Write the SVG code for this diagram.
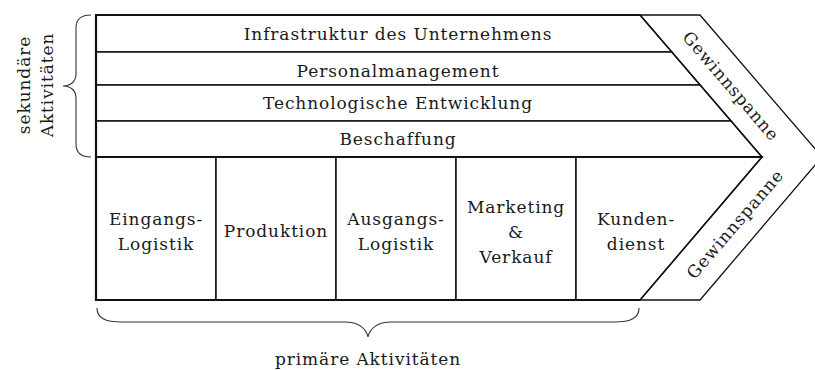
<svg xmlns="http://www.w3.org/2000/svg" width="815" height="370" viewBox="0 0 815 370">
<style>
text{font-family:"DejaVu Serif","Liberation Serif",serif;font-size:17px;letter-spacing:0.9px;fill:#1a1a1a;text-anchor:middle}
.cell{fill:#fff;stroke:#111;stroke-width:1.5;stroke-linejoin:miter}
.thin{fill:none;stroke:#111;stroke-width:1.3}
.thick{fill:none;stroke:#111;stroke-width:2.2}
.brace{fill:none;stroke:#333;stroke-width:1.1}
</style>
<rect width="815" height="370" fill="#fff"/>
<g id="infrastruktur">
<polygon class="cell" points="96,15 640,15 671.8,52 96,52"/>
<text x="398" y="40">Infrastruktur des Unternehmens</text>
</g>
<g id="personalmanagement">
<polygon class="cell" points="96,52 671.8,52 700.1,85 96,85"/>
<text x="398" y="77">Personalmanagement</text>
</g>
<g id="technologie">
<polygon class="cell" points="96,85 700.1,85 731.1,121 96,121"/>
<text x="398" y="109">Technologische Entwicklung</text>
</g>
<g id="beschaffung">
<polygon class="cell" points="96,121 731.1,121 762,157 96,157"/>
<text x="398" y="145">Beschaffung</text>
</g>
<g id="eingangslogistik">
<rect class="cell" x="96" y="157" width="120" height="143"/>
<text x="156" y="225">Eingangs-</text>
<text x="156" y="250">Logistik</text>
</g>
<g id="produktion">
<rect class="cell" x="216" y="157" width="120" height="143"/>
<text x="276" y="237">Produktion</text>
</g>
<g id="ausgangslogistik">
<rect class="cell" x="336" y="157" width="120" height="143"/>
<text x="396" y="225">Ausgangs-</text>
<text x="396" y="250">Logistik</text>
</g>
<g id="marketing">
<rect class="cell" x="456" y="157" width="120" height="143"/>
<text x="516" y="213">Marketing</text>
<text x="516" y="238">&amp;</text>
<text x="516" y="263">Verkauf</text>
</g>
<g id="kundendienst">
<polygon class="cell" points="576,157 762,157 640,300 576,300"/>
<text x="636" y="225">Kunden-</text>
<text x="636" y="250">dienst</text>
</g>
<g id="gewinnspanne">
<polygon class="thin" points="640,15 700,15 822,157 700,300 640,300 762,157"/>
<text transform="translate(731,86) rotate(49.3)" y="6">Gewinnspanne</text>
<text transform="translate(735,224) rotate(-49.3)" y="6">Gewinnspanne</text>
</g>
<g id="outline">
<polyline class="thick" points="640,15 96,15 96,300 640,300"/>
<line class="thick" x1="96" y1="157" x2="762" y2="157"/>
</g>
<g id="connectors">
<path class="brace" d="M91,15 C82,15 76,18 76,28 L76,74 C76,82 70,86 63,86 C70,86 76,90 76,98 L76,144 C76,154 82,157 91,157"/>
<path class="brace" d="M97,308 C97,318 105,322 122,322 L345,322 C358,322 366,328 368,337 C370,328 378,322 391,322 L614,322 C631,322 639,318 639,308"/>
</g>
<g id="labels">
<text transform="translate(30,85) rotate(-90)">sekundäre</text>
<text transform="translate(53,85) rotate(-90)">Aktivitäten</text>
<text x="368" y="365">primäre Aktivitäten</text>
</g>
</svg>
